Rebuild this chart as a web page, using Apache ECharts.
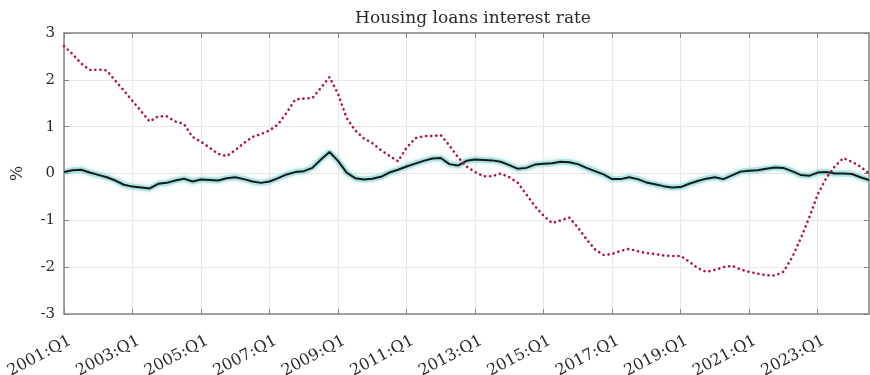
<!DOCTYPE html>
<html>
<head>
<meta charset="utf-8">
<script src="https://cdn.jsdelivr.net/npm/echarts@6/dist/echarts.min.js"></script>
<style>
  html, body { margin: 0; padding: 0; background: #fff; }
  #chart { width: 870px; height: 375px; }
</style>
</head>
<body>
<div id="chart"></div>
<script>
// Quarterly series, 2001:Q1 through 2024:Q3
const firstYear = 2001;

// Dotted red series (%)
const redSeries = [
  2.72, 2.55, 2.35, 2.21, 2.22, 2.20, 1.98, 1.77, 1.55, 1.33,
  1.11, 1.22, 1.22, 1.11, 1.06, 0.78, 0.68, 0.55, 0.42, 0.37,
  0.50, 0.65, 0.78, 0.84, 0.92, 1.05, 1.30, 1.58, 1.60, 1.61,
  1.83, 2.06, 1.70, 1.19, 0.92, 0.75, 0.65, 0.50, 0.38, 0.26,
  0.55, 0.75, 0.80, 0.80, 0.82, 0.60, 0.35, 0.15, 0.03, -0.06,
  -0.06, 0.00, -0.08, -0.20, -0.45, -0.70, -0.90, -1.06, -1.00, -0.94,
  -1.15, -1.40, -1.62, -1.74, -1.72, -1.65, -1.61, -1.66, -1.70, -1.72,
  -1.75, -1.76, -1.76, -1.88, -2.02, -2.10, -2.06, -2.00, -1.97, -2.05,
  -2.10, -2.14, -2.17, -2.18, -2.10, -1.80, -1.40, -0.95, -0.45, -0.10,
  0.15, 0.33, 0.25, 0.15, 0.00
];

// Solid dark series (%)
const blackSeries = [
  0.03, 0.07, 0.08, 0.02, -0.03, -0.08, -0.15, -0.24, -0.28, -0.30,
  -0.32, -0.22, -0.20, -0.15, -0.11, -0.17, -0.13, -0.14, -0.15, -0.10,
  -0.08, -0.12, -0.17, -0.20, -0.17, -0.10, -0.02, 0.03, 0.05, 0.12,
  0.30, 0.46, 0.27, 0.02, -0.10, -0.13, -0.11, -0.07, 0.02, 0.08,
  0.15, 0.21, 0.27, 0.32, 0.33, 0.20, 0.17, 0.27, 0.30, 0.29,
  0.28, 0.25, 0.18, 0.10, 0.12, 0.19, 0.21, 0.22, 0.25, 0.24,
  0.20, 0.12, 0.05, -0.02, -0.12, -0.12, -0.08, -0.12, -0.19, -0.23,
  -0.27, -0.30, -0.29, -0.22, -0.16, -0.11, -0.08, -0.12, -0.04, 0.04,
  0.06, 0.07, 0.10, 0.13, 0.12, 0.05, -0.03, -0.05, 0.02, 0.03,
  0.00, 0.00, -0.01, -0.08, -0.14
];

const tickLabels = ['2001:Q1', '2003:Q1', '2005:Q1', '2007:Q1', '2009:Q1', '2011:Q1',
                    '2013:Q1', '2015:Q1', '2017:Q1', '2019:Q1', '2021:Q1', '2023:Q1'];
const yTicks = [-3, -2, -1, 0, 1, 2, 3];

const quarters = redSeries.map((_, i) =>
  (firstYear + Math.floor(i / 4)) + ':Q' + (i % 4 + 1));

const FONT = 'DejaVu Serif';
const AXIS_COLOR = '#838383';
const GRID_COLOR = '#e8e8e8';
const TEXT_COLOR = '#2a2a2a';

const chart = echarts.init(document.getElementById('chart'), null, { renderer: 'canvas' });

const xCommon = {
  type: 'category',
  data: quarters,
  boundaryGap: false,
  axisLine: { show: true, onZero: false, lineStyle: { color: AXIS_COLOR, width: 1.5 } },
  axisTick: { show: true, inside: true, interval: 7, length: 5, lineStyle: { color: AXIS_COLOR, width: 1 } }
};

const yCommon = {
  type: 'value',
  min: -3,
  max: 3,
  interval: 1,
  axisLine: { show: true, lineStyle: { color: AXIS_COLOR, width: 1.5 } },
  axisTick: { show: true, inside: true, length: 5, lineStyle: { color: AXIS_COLOR, width: 1 } }
};

chart.setOption({
  animation: false,
  backgroundColor: '#ffffff',
  title: {
    text: 'Housing loans interest rate',
    left: 468,
    textAlign: 'center',
    top: 5,
    textStyle: { fontFamily: FONT, fontSize: 17, fontWeight: 'normal', color: TEXT_COLOR }
  },
  grid: { left: 64, right: 1, top: 33, bottom: 61, containLabel: false, outerBoundsMode: 'none' },
  xAxis: [
    Object.assign({}, xCommon, {
      position: 'bottom',
      axisLabel: {
        interval: 7,
        rotate: 28,
        margin: 29,
        padding: [0, -7, 0, 0],
        fontFamily: FONT,
        fontSize: 16,
        color: TEXT_COLOR,
        formatter: (v) => tickLabels.includes(v) ? v : ''
      },
      splitLine: { show: true, interval: 7, lineStyle: { color: GRID_COLOR, width: 1 } }
    }),
    Object.assign({}, xCommon, {
      position: 'top',
      axisLabel: { show: false },
      splitLine: { show: false }
    })
  ],
  yAxis: [
    Object.assign({}, yCommon, {
      position: 'left',
      name: '%',
      nameLocation: 'middle',
      nameGap: 38,
      nameRotate: 90,
      nameTextStyle: { fontFamily: FONT, fontSize: 16, color: TEXT_COLOR },
      axisLabel: {
        margin: 9,
        fontFamily: FONT,
        fontSize: 15,
        color: TEXT_COLOR,
        formatter: (v) => yTicks.includes(v) ? String(v) : ''
      },
      splitLine: { show: true, lineStyle: { color: GRID_COLOR, width: 1 } }
    }),
    Object.assign({}, yCommon, {
      position: 'right',
      axisLabel: { show: false },
      splitLine: { show: false }
    })
  ],
  series: [
    {
      // soft teal halo around the solid series
      type: 'line',
      data: blackSeries,
      symbol: 'none',
      silent: true,
      z: 2,
      lineStyle: {
        color: 'rgba(140, 212, 212, 0.55)',
        width: 6,
        shadowBlur: 4,
        shadowColor: 'rgba(120, 205, 205, 0.7)'
      }
    },
    {
      type: 'line',
      data: blackSeries,
      symbol: 'none',
      z: 3,
      lineStyle: { color: '#0e1c1c', width: 2 }
    },
    {
      type: 'line',
      data: redSeries,
      symbol: 'none',
      z: 4,
      lineStyle: { color: '#b3123d', width: 2.6, type: [0.1, 5], cap: 'round' }
    }
  ]
});
</script>
</body>
</html>
